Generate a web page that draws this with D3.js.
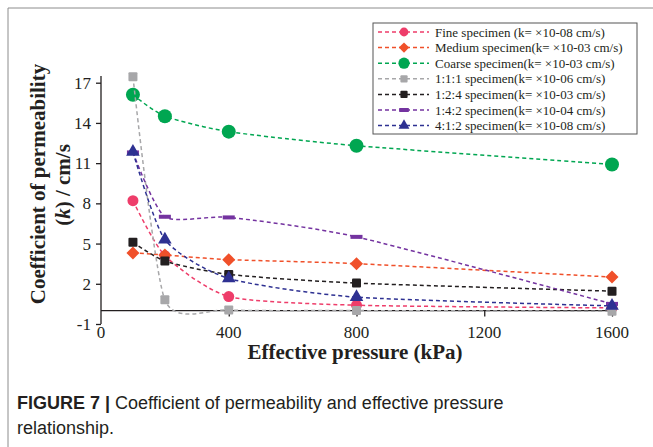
<!DOCTYPE html>
<html>
<head>
<meta charset="utf-8">
<script src="https://cdn.jsdelivr.net/npm/d3@7"></script>
<style>
  body { margin: 0; background: #fff; }
  svg { display: block; }
</style>
</head>
<body>
<svg id="chart" width="653" height="447"></svg>
<script>
// effective pressure (kPa)
var pressure = [100, 200, 400, 800, 1600];

// permeability values
var fine    = [8.2, 4.1, 1.05, 0.4, 0.2];
var medium  = [4.3, 4.15, 3.8, 3.5, 2.5];
var coarse  = [16.1, 14.5, 13.35, 12.3, 10.9];
var mix111  = [17.45, 0.8, 0.05, 0.0, -0.05];
var mix124  = [5.1, 3.7, 2.7, 2.05, 1.45];
var mix142  = [11.8, 7.0, 6.95, 5.5, 0.5];
var mix412  = [11.85, 5.3, 2.4, 1.0, 0.35];

var yTicks = [-1, 2, 5, 8, 11, 14, 17];
var xTicks = [400, 800, 1200, 1600];

var series = [
  {name: "Fine specimen (k= \u00d710-08 cm/s)",   values: fine,   color: "#ee3d6a", shape: "circle"},
  {name: "Medium specimen(k= \u00d710-03 cm/s)",  values: medium, color: "#f0502a", shape: "diamond"},
  {name: "Coarse specimen(k= \u00d710-03 cm/s)",  values: coarse, color: "#00a651", shape: "bigcircle"},
  {name: "1:1:1 specimen(k= \u00d710-06 cm/s)",   values: mix111, color: "#a7a7a9", shape: "square"},
  {name: "1:2:4 specimen(k= \u00d710-03 cm/s)",   values: mix124, color: "#231f20", shape: "square"},
  {name: "1:4:2 specimen(k= \u00d710-04 cm/s)",   values: mix142, color: "#7433a0", shape: "bar"},
  {name: "4:1:2 specimen(k= \u00d710-08 cm/s)",   values: mix412, color: "#2e3192", shape: "triangle"}
];

var svg = d3.select("#chart");

var x = d3.scaleLinear().domain([0, 1600]).range([101, 612]);
var y = d3.scaleLinear().domain([-1, 17.5]).range([324, 76]);

// page frame
svg.append("line").attr("x1", 8).attr("y1", 8).attr("x2", 653).attr("y2", 8)
  .style("stroke", "#8c8c8c").style("stroke-width", 1);
svg.append("line").attr("x1", 8).attr("y1", 8).attr("x2", 8).attr("y2", 447)
  .style("stroke", "#8c8c8c").style("stroke-width", 1);

var serif = "'Liberation Serif', 'Times New Roman', serif";

// y axis
var yAxis = svg.append("g")
  .attr("transform", "translate(" + x(0) + ",0)")
  .call(d3.axisLeft(y).tickValues(yTicks).tickSize(5).tickSizeOuter(0).tickPadding(5)
    .tickFormat(function (d) { return String(d); }));
yAxis.select(".domain").remove();
yAxis.append("line").attr("x1", 0).attr("x2", 0).attr("y1", y(17.5)).attr("y2", y(-1))
  .style("stroke", "#231f20").style("stroke-width", 1.3);
yAxis.selectAll(".tick line").style("stroke", "#231f20").style("stroke-width", 1.3);
yAxis.selectAll(".tick text").style("font-family", serif).style("font-size", "17px").style("fill", "#231f20");

// x axis drawn along k = 0
var xAxis = svg.append("g")
  .attr("transform", "translate(0," + y(0) + ")")
  .call(d3.axisBottom(x).tickValues(xTicks).tickSize(6).tickSizeOuter(0).tickFormat(d3.format("d")));
xAxis.select(".domain").remove();
xAxis.append("line").attr("x1", x(0)).attr("x2", x(1600)).attr("y1", 0).attr("y2", 0)
  .style("stroke", "#231f20").style("stroke-width", 1.3);
xAxis.selectAll(".tick line").style("stroke", "#231f20").style("stroke-width", 1.3);
xAxis.selectAll(".tick text").remove();

// x tick labels sit below the -1 level
var xLabels = [0].concat(xTicks);
svg.selectAll(".xlab").data(xLabels).enter().append("text")
  .attr("class", "xlab")
  .attr("x", function (d) { return x(d); })
  .attr("y", 338)
  .attr("text-anchor", "middle")
  .style("font-family", serif).style("font-size", "17px").style("fill", "#231f20")
  .text(function (d) { return d; });

// axis titles
svg.append("text")
  .attr("transform", "translate(355,359)")
  .attr("text-anchor", "middle")
  .style("font-family", serif).style("font-size", "21px").style("font-weight", "bold").style("fill", "#231f20")
  .text("Effective pressure (kPa)");

svg.append("text")
  .attr("transform", "translate(45,184) rotate(-90)")
  .attr("text-anchor", "middle")
  .style("font-family", serif).style("font-size", "21px").style("font-weight", "bold").style("fill", "#231f20")
  .text("Coefficient of permeability");

var yl2 = svg.append("text")
  .attr("transform", "translate(70,185) rotate(-90)")
  .attr("text-anchor", "middle")
  .style("font-family", serif).style("font-size", "21px").style("font-weight", "bold").style("fill", "#231f20");
yl2.append("tspan").text("(");
yl2.append("tspan").style("font-style", "italic").text("k");
yl2.append("tspan").text(") / cm/s");

// markers
function drawMarker(g, shape, color, big) {
  var s = big ? 1 : 0.8;
  if (shape === "circle") {
    g.append("circle").attr("r", 5.5 * s).style("fill", color);
  } else if (shape === "bigcircle") {
    g.append("circle").attr("r", 7 * s).style("fill", color);
  } else if (shape === "diamond") {
    var h = 6.5 * s;
    g.append("path").attr("d", "M0," + (-h) + "L" + h + ",0L0," + h + "L" + (-h) + ",0Z").style("fill", color);
  } else if (shape === "square") {
    g.append("rect").attr("x", -4.5 * s).attr("y", -4.5 * s).attr("width", 9 * s).attr("height", 9 * s)
      .attr("rx", 1).style("fill", color);
  } else if (shape === "bar") {
    g.append("rect").attr("x", -6 * s).attr("y", -2).attr("width", 12 * s).attr("height", 4)
      .style("fill", color);
  } else if (shape === "triangle") {
    g.append("path").attr("d", d3.symbol().type(d3.symbolTriangle).size(80 * s * s)).style("fill", color);
  }
}

// smoothed lines, like the spreadsheet's "smooth line" option
var line = d3.line()
  .x(function (d, i) { return x(pressure[i]); })
  .y(function (d) { return y(d); })
  .curve(d3.curveCardinal.tension(0.35));

series.forEach(function (s) {
  var g = svg.append("g");
  g.append("path")
    .attr("d", line(s.values))
    .style("fill", "none")
    .style("stroke", s.color)
    .style("stroke-width", 1.5)
    .style("stroke-dasharray", "4,3");
  s.values.forEach(function (v, i) {
    var m = g.append("g").attr("transform", "translate(" + x(pressure[i]) + "," + y(v) + ")");
    drawMarker(m, s.shape, s.color, true);
  });
});

// legend
var legend = svg.append("g");
legend.append("rect").attr("x", 373).attr("y", 23).attr("width", 264).attr("height", 111)
  .style("fill", "#fff").style("stroke", "#555").style("stroke-width", 1);
series.forEach(function (s, i) {
  var ly = 32 + i * 15.6;
  var row = legend.append("g");
  row.append("line").attr("x1", 378).attr("x2", 429).attr("y1", ly).attr("y2", ly)
    .style("stroke", s.color).style("stroke-width", 1.5).style("stroke-dasharray", "4,3");
  var m = row.append("g").attr("transform", "translate(404," + ly + ")");
  drawMarker(m, s.shape, s.color, false);
  row.append("text").attr("x", 435).attr("y", ly + 4.5)
    .style("font-family", serif).style("font-size", "13px").style("fill", "#231f20")
    .text(s.name);
});

// caption
var capFont = "'Liberation Sans', Arial, sans-serif";
var cap = svg.append("text").attr("x", 17).attr("y", 409)
  .style("font-family", capFont).style("font-size", "18px").style("fill", "#231f20");
cap.append("tspan").style("font-weight", "bold").text("FIGURE 7 | ");
cap.append("tspan").text("Coefficient of permeability and effective pressure");
svg.append("text").attr("x", 17).attr("y", 434)
  .style("font-family", capFont).style("font-size", "18px").style("fill", "#231f20")
  .text("relationship.");
</script>
</body>
</html>
